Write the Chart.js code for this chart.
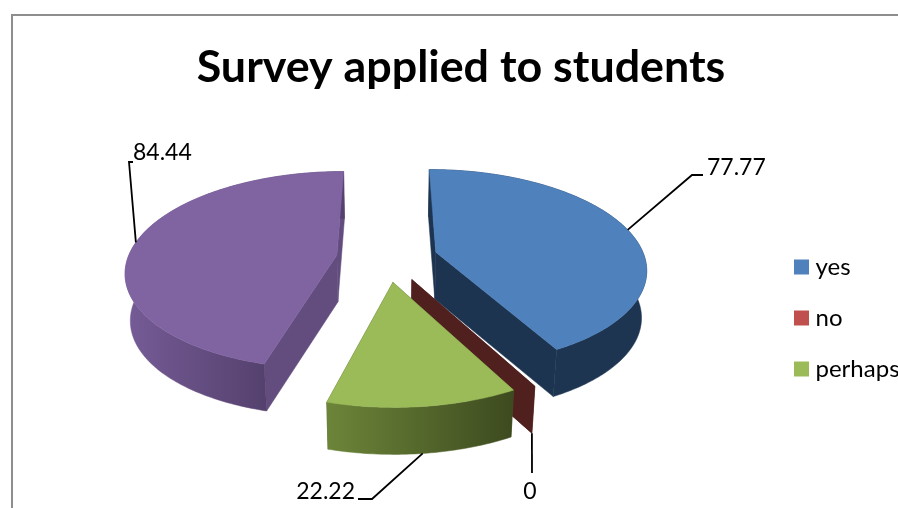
<!DOCTYPE html>
<html>
<head>
<meta charset="utf-8">
<style>
html, body { margin: 0; padding: 0; background: #fff; overflow: hidden; width: 898px; height: 508px; }
canvas { position: absolute; left: 0; top: 0; }
</style>
<script src="https://cdn.jsdelivr.net/npm/chart.js@4"></script>
</head>
<body>
<canvas id="myChart" width="920" height="520"></canvas>
<script>
const categories = ['yes', 'no', 'perhaps', '']
const answers = [77.77, 0, 22.22, 84.44]

const topColors = ['#4F81BD', '#C0504D', '#9BBB59', '#8064A2']
const wallColors = [['#1E3552', '#1E3552'], ['#50201F', '#50201F'], ['#6C8539', '#3D4A1F'], ['#765C97', '#55416E']]
const cutColors = ['#1D3450', '#50201F', '#4A5A28', '#634D7F']
const drawOrder = [3, 0, 1, 2]

// page position of each leader line: elbow, line end, label anchor
const leaders = [
    { elbow: [692, 175], end: [703, 175], text: [707, 168], align: 'left', front: false },
    { elbow: [532, 473], end: [532, 473], text: [530, 492], align: 'center', front: true },
    { elbow: [372, 499], end: [358, 499], text: [355, 492], align: 'right', front: true },
    { elbow: [129, 162], end: [133, 162], text: [133, 153], align: 'left', front: false },
]

// fake 3d view of the pie plane
const view = { x: 387, y: 258, squash: 0.465, persp: 0.155, explode: 0.243, depth: 47, shrink: 0.98 }

function project(arc, angle, radius) {
    let mid = (arc.startAngle + arc.endAngle) / 2
    let u = view.explode * Math.cos(mid) + radius * Math.cos(angle)
    let v = view.explode * Math.sin(mid) + radius * Math.sin(angle)
    let w = 1 / (1 - view.persp * v)
    return [view.x + arc.outerRadius * u * w, view.y + arc.outerRadius * view.squash * v * w]
}

function lower(p) {
    return [view.x + (p[0] - view.x) * view.shrink, p[1] + view.depth]
}

function fillPoly(ctx, pts, color) {
    ctx.beginPath()
    pts.forEach((p, i) => i ? ctx.lineTo(p[0], p[1]) : ctx.moveTo(p[0], p[1]))
    ctx.closePath()
    ctx.fillStyle = color
    ctx.strokeStyle = color
    ctx.lineWidth = 0.5
    ctx.fill()
    ctx.stroke()
}

function rimPoints(arc) {
    let pts = []
    let steps = Math.max(2, Math.ceil((arc.endAngle - arc.startAngle) * 60))
    for (let i = 0; i <= steps; i++) {
        pts.push(project(arc, arc.startAngle + (arc.endAngle - arc.startAngle) * i / steps, 1))
    }
    return pts
}

const pie3d = {
    id: 'pie3d',
    beforeDraw(chart) {
        let ctx = chart.ctx
        ctx.save()
        ctx.fillStyle = '#fff'
        ctx.fillRect(0, 0, chart.width, chart.height)
        ctx.strokeStyle = '#8E8E8E'
        ctx.lineWidth = 2
        ctx.strokeRect(12, 15, 900, 600)
        ctx.restore()
    },
    afterLayout(chart) {
        let legend = chart.legend
        let pad = legend.options.labels.padding
        let w = legend.right - legend.left
        legend.left = 799.5 - pad
        legend.right = legend.left + w
        let h = legend.bottom - legend.top
        legend.top = 255 - pad
        legend.bottom = legend.top + h
    },
    // the arcs are laid out by the pie controller, they are only painted here
    beforeDatasetDraw() {
        return false
    },
    afterDatasetsDraw(chart) {
        let ctx = chart.ctx
        let arcs = chart.getDatasetMeta(0).data
        ctx.save()
        drawOrder.forEach(i => {
            let arc = arcs[i]
            let rim = rimPoints(arc)
            let apex = project(arc, arc.startAngle, 0)
            let first = rim[0]
            let last = rim[rim.length - 1]

            fillPoly(ctx, [apex, first, lower(first), lower(apex)], cutColors[i])
            fillPoly(ctx, [apex, last, lower(last), lower(apex)], cutColors[i])
            if (answers[i] > 0) {
                let bottom = rim.map(lower).reverse()
                let xs = rim.map(p => p[0])
                // the purple wall only shows up to its front corner
                let right = i == 3 ? first[0] : Math.max(...xs)
                let grad = ctx.createLinearGradient(Math.min(...xs), 0, right, 0)
                grad.addColorStop(0, wallColors[i][0])
                grad.addColorStop(1, wallColors[i][1])
                fillPoly(ctx, rim.concat(bottom), grad)
                fillPoly(ctx, [apex].concat(rim), topColors[i])
            }
        })

        // leader lines and values
        ctx.font = '23px Lato'
        ctx.fillStyle = '#000'
        ctx.textBaseline = 'middle'
        ctx.strokeStyle = '#000'
        ctx.lineWidth = 1.8
        arcs.forEach((arc, i) => {
            let l = leaders[i]
            let mid = (arc.startAngle + arc.endAngle) / 2
            let from = project(arc, mid, 1)
            if (l.front) from = lower(from)
            ctx.beginPath()
            ctx.moveTo(from[0], from[1])
            ctx.lineTo(l.elbow[0], l.elbow[1])
            ctx.lineTo(l.end[0], l.end[1])
            ctx.stroke()
            ctx.textAlign = l.align
            ctx.fillText(String(answers[i]), l.text[0], l.text[1])
        })
        ctx.restore()
    },
}

new Chart('myChart', {
    type: 'pie',
    data: {
        labels: categories,
        datasets: [{
            data: answers,
            backgroundColor: topColors,
            borderWidth: 0,
            radius: 209,
        }],
    },
    options: {
        responsive: false,
        animation: false,
        layout: { padding: { left: 12, right: 10, top: 41 } },
        plugins: {
            tooltip: { enabled: false },
            title: {
                display: true,
                text: 'Survey applied to students',
                color: '#000',
                font: { family: 'Lato', size: 44.8, weight: 'bold' },
                padding: { top: 0, bottom: 10 },
            },
            legend: {
                position: 'right',
                align: 'start',
                labels: {
                    color: '#000',
                    font: { family: 'Lato', size: 24 },
                    boxWidth: 4,
                    boxHeight: 4,
                    padding: 27,
                    // thick stroke keeps the swatch 15px while the text sits closer to it
                    generateLabels: chart => Chart.overrides.pie.plugins.legend.labels.generateLabels(chart)
                        .map(item => ({ ...item, lineWidth: 11, strokeStyle: item.fillStyle })),
                    filter: item => item.text !== '',
                },
            },
        },
    },
    plugins: [pie3d],
})
</script>
</body>
</html>
